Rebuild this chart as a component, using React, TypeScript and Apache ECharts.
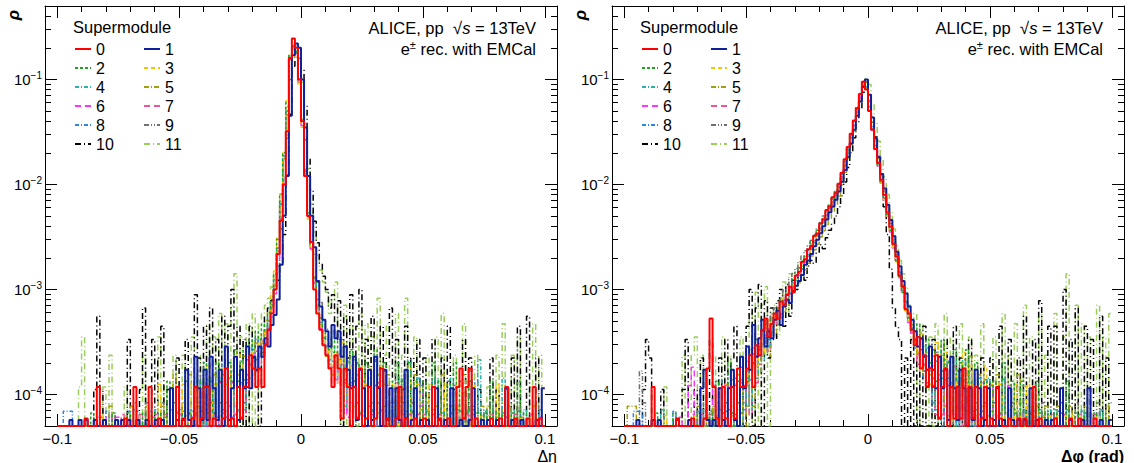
import React, { useEffect, useRef } from "react";
import * as echarts from "echarts";

// ---------------- axes / binning ----------------
const SUPERMODULES = ["0", "1", "2", "3", "4", "5", "6", "7", "8", "9", "10", "11"];
const HIST_MIN = -0.1;
const HIST_MAX = 0.1;
const N_BINS = 160;
const X_MIN = -0.105;
const X_MAX = 0.105;
const Y_MIN = 5e-5;
const Y_MAX = 0.5;
const X_MAJOR_TICKS = [-0.1, -0.05, 0, 0.05, 0.1];
const X_MINOR_TICKS = [-0.09, -0.08, -0.07, -0.06, -0.04, -0.03, -0.02, -0.01, 0.01, 0.02, 0.03, 0.04, 0.06, 0.07, 0.08, 0.09];
const Y_MAJOR_TICKS = [1e-4, 1e-3, 1e-2, 1e-1];
const Y_MINOR_TICKS = [
  6e-5, 7e-5, 8e-5, 9e-5,
  2e-4, 3e-4, 4e-4, 5e-4, 6e-4, 7e-4, 8e-4, 9e-4,
  2e-3, 3e-3, 4e-3, 5e-3, 6e-3, 7e-3, 8e-3, 9e-3,
  2e-2, 3e-2, 4e-2, 5e-2, 6e-2, 7e-2, 8e-2, 9e-2,
  2e-1, 3e-1, 4e-1,
];

// entries per supermodule (normalisation of the histograms)
const ETA_ENTRIES = [17000, 17500, 15000, 16000, 14000, 13000, 16500, 15500, 14500, 12000, 9000, 8500];
const PHI_ENTRIES = [17000, 17500, 15000, 16000, 14000, 13000, 16500, 15500, 14500, 12000, 9000, 8500];

// ---------------- Δη counts per bin (160 bins, -0.1 .. 0.1) ----------------
const ETA_SM0 = [
  0,0,0,0,0,0,0,0,0,1, 0,0,0,2,0,0,0,0,0,0,
  0,0,1,0,0,2,0,0,0,0, 2,0,0,1,0,0,0,0,0,2,
  0,1,0,0,1,2,0,1,2,2, 0,1,0,0,1,3,0,1,0,2,
  1,2,2,4,3,2,3,2,5,7, 10,17,37,77,170,544,2720,4165,3400,1700,
  680,204,85,48,17,10,7,5,4,3, 2,4,3,1,3,2,0,2,1,3,
  0,1,2,0,1,2,3,0,1,0, 0,1,2,0,1,0,0,1,0,0,
  1,0,0,2,0,1,0,0,1,0, 0,2,3,1,2,3,0,1,0,0,
  0,0,1,0,0,1,0,2,0,0, 1,0,0,0,1,0,2,0,1,0,
];
const ETA_SM1 = [
  0,0,0,0,1,0,0,1,0,1, 0,0,1,0,0,1,0,0,0,1,
  0,1,0,1,0,0,1,0,0,1, 0,0,1,0,1,0,0,2,0,1,
  0,1,3,1,0,4,2,1,3,1, 4,2,1,3,0,5,1,2,4,1,
  3,2,5,2,4,3,5,4,6,5, 8,10,14,30,88,210,790,2975,3850,3500,
  1750,610,210,88,44,21,12,9,7,5, 8,6,7,4,5,3,2,4,1,3,
  2,0,3,1,4,2,0,3,1,2, 0,2,1,0,3,0,1,2,0,1,
  0,1,0,0,2,1,0,1,0,2, 0,0,1,0,0,1,2,0,0,1,
  0,1,0,0,1,0,0,2,0,1, 0,0,1,0,0,0,0,1,0,2,
];
const ETA_SM2 = [
  0,0,0,0,0,0,0,0,0,0, 0,1,0,0,0,0,0,0,1,0,
  0,0,0,1,0,0,0,0,1,0, 0,1,0,0,1,0,2,0,0,1,
  1,0,2,1,0,1,2,0,3,1, 2,1,3,2,1,2,3,2,4,2,
  3,4,2,5,4,6,5,7,6,9, 12,21,45,120,300,900,2550,3000,2700,1500,
  600,200,80,40,20,12,8,6,5,4, 6,3,5,4,2,3,4,2,3,1,
  2,3,1,2,4,1,2,3,1,0, 2,3,1,2,0,3,1,2,1,0,
  2,1,0,3,1,2,1,0,2,1, 3,1,2,0,1,2,0,1,1,0,
  1,0,2,0,1,0,1,0,0,1, 0,2,0,1,0,0,1,0,0,0,
];
const ETA_SM3 = [
  0,0,0,0,0,0,0,0,0,0, 0,0,0,0,1,0,0,0,0,0,
  0,0,1,0,0,0,1,0,0,0, 1,0,0,2,0,0,1,0,1,0,
  0,2,1,0,2,1,0,2,1,3, 1,2,2,1,3,2,1,3,2,4,
  2,3,4,3,5,4,6,5,8,10, 14,24,50,130,330,1000,2700,3100,2600,1400,
  560,190,75,38,19,11,7,6,4,5, 3,4,2,5,3,2,3,1,2,3,
  1,2,3,0,2,1,3,2,0,1, 2,1,0,2,1,3,0,1,2,0,
  1,0,2,1,0,1,0,2,1,0, 1,2,0,1,0,0,2,1,0,1,
  0,1,0,0,2,0,1,0,1,0, 0,0,1,0,0,1,0,0,0,0,
];
const ETA_SM4 = [
  0,0,0,0,0,0,0,0,0,0, 0,0,0,0,0,0,0,0,0,0,
  0,0,0,0,0,1,0,0,0,0, 0,0,1,0,0,0,0,1,0,0,
  1,0,0,1,0,2,0,1,0,1, 2,0,1,2,1,0,2,1,3,1,
  2,1,3,2,4,3,4,5,5,7, 10,16,33,90,240,700,2200,2900,2600,1400,
  560,190,75,36,18,10,7,5,4,3, 4,2,3,2,4,1,2,3,1,2,
  1,0,2,1,3,0,1,2,0,1, 1,0,2,1,0,3,1,0,2,1,
  0,1,0,1,2,0,0,1,0,2, 0,1,0,0,1,0,1,0,3,0,
  1,0,0,1,0,0,2,0,0,1, 0,0,0,1,0,0,0,0,1,0,
];
const ETA_SM5 = [
  0,0,0,0,0,0,0,0,0,0, 0,0,0,0,0,0,0,1,0,0,
  0,0,0,0,1,0,0,0,0,1, 0,0,0,0,1,0,0,0,2,0,
  0,1,0,2,0,1,1,0,2,1, 0,2,1,1,2,0,1,2,1,2,
  1,3,2,3,2,4,3,4,5,6, 9,15,30,85,230,650,2000,2600,2450,1350,
  540,180,70,34,17,9,6,5,3,4, 2,3,2,3,1,2,3,1,2,1,
  0,2,1,0,1,2,0,1,2,0, 1,0,1,2,0,1,0,2,0,1,
  0,0,1,0,1,0,2,0,0,1, 0,1,0,2,0,0,1,0,0,1,
  0,1,0,0,0,1,0,0,1,0, 0,1,0,0,0,0,1,0,0,0,
];
const ETA_SM6 = [
  0,0,0,0,0,0,0,0,0,0, 0,0,0,1,1,0,1,1,0,1,
  1,0,1,0,0,0,1,0,0,0, 0,1,0,0,0,1,0,0,1,0,
  0,0,1,0,1,0,0,1,0,2, 1,0,1,2,0,1,2,1,0,2,
  1,2,3,2,4,3,4,4,5,7, 9,15,32,90,250,760,2300,3300,2900,1500,
  600,200,80,40,19,11,7,5,4,3, 3,2,4,2,3,1,2,2,1,3,
  1,2,0,1,2,0,1,0,2,1, 0,1,2,0,1,0,0,1,0,2,
  0,1,0,0,1,0,1,0,0,1, 2,0,0,1,0,0,0,1,0,0,
  1,0,0,0,1,0,0,1,0,0, 0,0,1,0,0,0,0,0,1,0,
];
const ETA_SM7 = [
  0,0,0,0,0,0,0,0,0,0, 0,0,0,0,0,0,0,0,1,0,
  0,1,0,0,0,0,0,1,0,0, 0,0,1,0,0,1,0,0,0,0,
  1,0,0,1,0,1,0,0,2,0, 1,1,0,2,1,0,1,2,1,1,
  2,1,2,3,3,4,3,5,5,7, 10,17,35,95,260,780,2400,3200,2800,1450,
  580,195,78,38,18,10,7,5,4,3, 2,3,2,3,2,1,2,1,3,1,
  2,0,1,1,0,2,1,0,1,0, 1,2,0,1,0,1,0,0,1,0,
  1,0,0,1,0,1,0,0,1,0, 0,1,0,0,1,0,1,0,0,0,
  0,0,1,0,0,0,1,0,0,0, 1,0,0,0,0,1,0,0,0,0,
];
const ETA_SM8 = [
  0,0,1,1,1,0,0,0,0,0, 0,0,0,0,0,0,1,0,0,0,
  0,0,0,1,0,0,1,0,0,0, 1,0,0,0,1,0,0,1,0,1,
  0,1,2,0,1,0,2,1,0,2, 1,2,0,1,3,1,2,0,2,1,
  3,2,2,4,3,5,4,4,6,8, 11,18,36,100,270,800,2350,3000,2650,1400,
  560,190,76,37,18,10,7,5,4,3, 3,2,3,1,2,3,1,2,2,1,
  1,2,0,1,3,0,1,2,0,1, 0,1,0,2,1,0,1,0,2,0,
  0,1,0,2,0,0,1,0,1,0, 0,0,1,0,1,0,0,2,0,0,
  1,0,0,1,0,0,0,1,0,0, 0,1,0,0,0,0,0,1,0,0,
];
const ETA_SM9 = [
  0,0,0,0,0,0,0,0,0,0, 0,0,0,0,0,0,0,0,0,0,
  0,0,0,0,0,1,0,0,0,1, 0,0,0,0,1,0,0,0,1,0,
  0,1,0,1,0,0,2,0,1,0, 1,0,2,1,0,1,0,2,1,1,
  2,1,2,2,3,2,4,3,4,6, 8,12,20,45,110,330,1200,2300,2500,1900,
  900,320,120,55,26,14,9,6,5,4, 3,3,2,4,2,3,1,2,1,2,
  1,0,2,1,0,1,0,2,0,1, 1,0,0,1,2,0,1,0,0,1,
  0,1,0,0,1,0,1,0,0,0, 1,0,1,0,0,2,0,0,1,0,
  0,0,1,0,0,0,1,0,0,0, 0,1,0,0,0,0,0,1,0,0,
];
const ETA_SM10 = [
  0,0,0,0,0,0,0,0,0,0, 0,0,1,5,1,0,0,0,0,0,
  0,0,0,3,0,0,0,1,6,0, 0,3,0,2,4,0,1,0,0,2,
  0,0,3,0,0,8,2,0,4,0, 6,0,3,0,5,0,4,9,0,4,
  0,3,0,4,2,3,0,3,5,6, 7,9,11,16,30,110,420,1200,1750,1650,
  1100,500,160,80,40,25,16,12,9,6, 8,3,7,0,5,2,8,0,4,9,
  0,3,0,5,1,0,4,0,2,6, 0,3,0,1,4,0,2,0,3,0,
  2,0,1,3,0,0,2,0,4,0, 1,0,0,3,0,2,0,0,1,0,
  0,0,2,0,1,0,0,1,0,2, 0,4,0,0,5,0,0,2,0,0,
];
const ETA_SM11 = [
  0,0,0,0,0,0,0,1,3,0, 0,0,0,0,0,1,0,2,0,0,
  0,0,1,0,0,0,0,0,2,0, 0,0,0,3,0,1,0,0,2,0,
  0,2,0,0,3,0,2,0,0,4, 0,3,0,5,0,4,0,6,12,0,
  3,0,4,0,5,0,4,5,6,7, 9,12,20,40,85,250,900,1500,1600,1350,
  800,320,120,55,30,18,13,10,8,5, 7,10,3,0,6,0,4,2,0,5,
  0,4,0,3,0,7,0,2,4,0, 0,5,0,2,7,0,0,3,0,1,
  0,2,0,0,3,0,5,0,1,0, 2,0,0,4,0,1,0,2,0,0,
  0,1,0,0,2,0,4,0,0,2, 0,3,0,0,0,1,4,0,2,0,
];

// ---------------- Δφ counts per bin (160 bins, -0.1 .. 0.1) ----------------
const PHI_SM0 = [
  0,0,0,0,0,0,0,0,0,2, 0,0,0,0,0,0,0,1,0,0,
  0,0,1,0,0,0,1,3,9,2, 1,0,2,1,0,2,1,3,2,2,
  3,4,2,5,4,7,9,6,8,10, 9,13,12,15,18,16,23,25,31,33,
  41,44,55,58,72,79,97,105,128,140, 172,220,295,385,515,690,905,1230,1615,1360,
  850,565,370,272,188,135,92,67,46,35, 23,18,11,10,7,5,6,3,4,2,
  3,2,4,1,2,3,0,2,1,2, 1,3,0,2,1,2,0,1,2,0,
  1,0,2,1,0,0,1,0,0,1, 0,1,0,0,2,0,1,0,0,0,
  0,1,0,0,0,0,1,0,0,1, 0,0,0,0,1,0,0,0,0,0,
];
const PHI_SM1 = [
  0,0,0,0,1,0,0,0,0,1, 0,1,0,0,0,0,0,1,0,0,
  0,1,0,0,0,2,3,1,0,1, 0,2,1,0,2,3,1,0,4,2,
  5,3,8,4,6,9,5,7,6,9, 11,8,12,14,13,17,19,21,24,30,
  33,38,45,52,60,70,81,95,108,125, 150,185,240,320,430,580,790,1080,1480,1750,
  1250,760,480,320,220,160,112,80,56,40, 29,21,16,12,9,7,5,6,4,3,
  5,3,2,4,2,3,1,4,2,1, 3,2,0,2,1,3,2,0,1,2,
  0,1,2,0,1,0,2,1,0,1, 0,1,0,2,0,1,0,0,1,0,
  1,0,0,2,0,0,1,0,0,0, 1,0,2,0,0,0,1,0,0,1,
];
const PHI_SM2 = [
  0,0,0,0,0,0,0,0,0,0, 1,0,0,0,0,0,1,0,0,0,
  0,0,0,0,1,0,0,0,1,0, 2,0,1,0,3,1,0,2,1,3,
  2,4,3,5,4,6,7,5,8,9, 10,12,11,14,16,19,22,24,28,31,
  36,42,48,55,64,72,84,96,110,128, 150,190,250,335,450,600,820,1100,1420,1250,
  780,500,330,230,160,112,78,55,40,28, 20,14,10,8,6,5,7,4,3,5,
  3,4,2,3,5,2,3,1,4,2, 3,2,4,1,2,3,1,2,0,2,
  1,2,0,1,3,1,0,2,1,0, 2,1,0,1,0,2,1,0,1,0,
  0,1,0,1,0,2,0,0,1,0, 0,1,0,0,1,0,0,1,0,0,
];
const PHI_SM3 = [
  0,0,0,0,0,0,0,0,0,0, 0,0,0,1,0,0,0,0,0,0,
  0,0,0,1,0,0,0,1,0,0, 1,0,0,2,0,1,2,0,1,2,
  3,2,4,3,5,4,6,8,7,9, 8,11,13,12,16,18,20,23,27,30,
  35,40,46,53,62,70,80,92,106,122, 145,185,245,330,440,600,820,1110,1460,1300,
  820,520,345,240,165,115,80,57,40,29, 21,15,10,8,7,5,4,6,3,4,
  2,3,5,2,3,4,1,2,3,1, 2,4,1,3,2,1,2,0,3,1,
  2,0,1,2,0,1,1,0,2,0, 1,0,2,0,1,0,0,1,0,1,
  0,0,1,0,1,0,0,1,0,0, 1,0,0,0,0,1,0,0,0,0,
];
const PHI_SM4 = [
  0,0,0,0,0,0,0,0,0,0, 0,0,1,0,0,0,0,0,0,0,
  0,0,0,0,0,1,0,0,0,0, 0,1,0,0,1,0,2,1,0,1,
  2,1,3,2,4,3,5,4,6,7, 8,7,10,11,13,15,17,20,22,26,
  30,34,39,45,52,60,68,79,92,106, 125,160,210,285,380,510,700,950,1290,1200,
  760,480,320,220,150,105,74,52,37,27, 19,14,10,7,6,4,5,3,4,2,
  3,2,1,4,2,3,2,1,3,0, 2,3,1,2,0,1,2,1,0,2,
  1,0,1,0,2,0,1,0,1,0, 0,1,0,1,0,0,1,0,0,1,
  0,1,0,0,0,1,0,0,0,0, 1,0,0,0,0,0,1,0,0,0,
];
const PHI_SM5 = [
  0,1,1,1,0,0,0,0,0,0, 0,0,0,0,0,0,0,0,0,0,
  0,0,0,0,1,0,0,0,0,1, 0,0,1,0,0,1,0,2,1,0,
  1,2,1,3,2,3,4,3,5,5, 6,7,8,9,10,12,14,15,18,20,
  23,27,31,35,41,47,54,62,72,84, 100,128,170,230,310,420,580,800,1100,1230,
  820,510,335,230,158,110,77,54,38,27, 19,13,10,7,6,4,3,5,2,3,
  2,3,1,2,4,1,2,3,0,2, 1,2,0,3,1,0,2,1,1,0,
  1,0,2,0,1,0,0,1,0,2, 0,0,1,0,0,1,0,0,1,0,
  0,0,1,0,0,0,1,0,0,0, 0,1,0,0,0,0,0,0,1,0,
];
const PHI_SM6 = [
  0,0,0,0,0,0,0,0,0,0, 0,0,0,0,0,0,0,0,1,0,
  0,2,3,0,1,0,0,1,0,2, 1,0,1,2,0,1,2,1,3,2,
  2,3,4,3,5,5,6,7,8,9, 11,12,13,15,17,19,22,25,28,32,
  37,42,48,55,63,73,84,97,112,130, 155,195,255,340,455,610,830,1120,1480,1330,
  840,540,355,245,170,118,82,58,41,30, 21,15,11,8,6,5,4,3,4,2,
  3,2,4,1,2,3,2,1,3,2, 1,2,0,2,1,0,2,1,0,1,
  2,0,1,0,1,0,2,0,1,0, 0,1,0,0,1,0,0,1,0,0,
  0,1,0,0,0,1,0,0,1,0, 0,0,0,1,0,0,0,0,0,0,
];
const PHI_SM7 = [
  0,0,0,0,0,0,0,0,0,0, 0,0,0,0,0,0,0,0,0,0,
  0,0,1,0,0,1,0,0,1,0, 0,1,0,2,0,1,1,0,2,1,
  2,1,3,2,3,4,5,4,6,7, 8,9,11,12,14,16,19,21,24,28,
  32,37,42,48,56,64,74,85,99,115, 138,175,230,305,410,550,750,1020,1370,1280,
  800,510,340,235,162,113,79,56,40,29, 20,15,10,8,6,5,3,4,3,2,
  2,3,1,2,1,3,0,2,1,2, 0,1,2,0,1,0,1,2,0,1,
  0,1,0,1,0,2,0,0,1,0, 1,0,0,1,0,0,0,1,0,0,
  1,0,0,0,1,0,0,0,0,1, 0,0,0,0,1,0,0,0,0,0,
];
const PHI_SM8 = [
  0,0,0,1,1,1,0,0,0,0, 0,0,0,0,0,0,1,0,0,0,
  0,0,0,0,1,0,0,0,1,0, 0,2,0,1,0,2,1,0,2,1,
  3,2,4,3,4,6,5,6,7,8, 9,11,12,14,15,18,20,23,26,30,
  34,39,45,52,60,68,79,91,105,122, 145,183,240,320,430,575,780,1060,1400,1270,
  800,515,340,235,163,114,80,57,40,29, 21,15,11,8,6,4,5,3,2,4,
  2,1,3,2,0,2,3,1,2,0, 2,1,3,0,1,2,0,1,2,0,
  1,0,1,0,2,0,1,0,0,1, 0,1,0,0,1,0,0,0,1,0,
  0,0,1,0,0,1,0,0,0,0, 1,0,0,0,0,0,1,0,0,0,
];
const PHI_SM9 = [
  0,0,0,0,0,2,1,0,0,0, 0,0,0,0,0,0,0,0,0,0,
  0,0,0,0,0,0,1,0,0,0, 1,0,0,1,0,2,0,1,2,1,
  2,3,2,4,3,5,6,5,7,8, 9,10,12,13,15,17,19,22,25,28,
  31,35,40,46,52,60,68,78,90,104, 120,150,195,255,335,440,590,790,1050,1100,
  740,470,310,215,150,104,73,51,36,26, 18,13,9,7,5,4,3,4,2,3,
  2,1,3,1,2,0,2,1,0,2, 1,0,1,2,0,1,0,0,1,0,
  0,1,0,0,1,0,0,1,0,0, 1,0,0,0,1,0,0,1,0,0,
  0,0,0,1,0,0,0,0,1,0, 0,0,0,0,0,1,0,0,0,1,
];
const PHI_SM10 = [
  0,0,0,0,0,0,1,3,2,0, 0,0,1,0,0,0,0,0,0,1,
  3,0,0,1,0,2,0,0,3,0, 0,2,0,3,0,2,4,0,2,0,
  4,9,0,6,10,0,7,2,6,3, 7,9,4,10,5,11,9,12,14,11,
  15,17,16,20,24,22,28,33,38,45, 55,70,95,130,180,250,350,480,680,850,
  640,400,255,160,95,55,30,14,6,4, 3,0,2,0,3,0,2,0,4,0,
  0,3,0,2,0,3,0,0,4,0, 2,0,0,3,0,1,0,2,0,0,
  2,0,0,4,0,0,3,0,0,2, 0,5,0,0,3,0,7,0,0,4,
  0,4,0,0,9,0,3,0,6,0, 0,4,0,3,0,0,5,0,2,0,
];
const PHI_SM11 = [
  0,0,0,0,0,0,0,0,0,0, 0,0,0,1,0,0,0,0,0,2,
  0,0,2,3,0,2,0,0,0,2, 0,0,3,0,2,0,0,1,3,0,
  0,5,0,8,0,6,9,0,4,6, 3,7,10,5,12,11,9,15,14,17,
  19,21,24,28,31,35,40,46,52,60, 70,88,115,150,205,280,390,540,740,860,
  760,500,330,220,150,100,68,46,32,22, 16,12,9,6,3,5,0,4,2,0,
  3,0,4,0,2,5,0,3,0,1, 4,0,0,3,0,2,0,4,0,0,
  0,3,0,0,5,0,2,0,4,0, 0,6,0,3,0,0,5,0,2,0,
  0,5,0,0,3,12,0,0,6,0, 4,0,3,0,0,6,0,3,0,5,
];

const ETA_COUNTS = [ETA_SM0, ETA_SM1, ETA_SM2, ETA_SM3, ETA_SM4, ETA_SM5, ETA_SM6, ETA_SM7, ETA_SM8, ETA_SM9, ETA_SM10, ETA_SM11];
const PHI_COUNTS = [PHI_SM0, PHI_SM1, PHI_SM2, PHI_SM3, PHI_SM4, PHI_SM5, PHI_SM6, PHI_SM7, PHI_SM8, PHI_SM9, PHI_SM10, PHI_SM11];

// ---------------- styles ----------------
const SM_COLORS = ["#ff0000", "#10209a", "#22a022", "#f5c400", "#2ab0b0", "#a0a010", "#ff33ff", "#ee5599", "#2f86e0", "#707070", "#000000", "#9acd5a"];
const SM_WIDTHS = [2, 2, 1.5, 1.5, 1.5, 1.5, 1.5, 1.5, 1.5, 1.5, 1.5, 1.5];
const SM_DASHES: any[] = [
  "solid", "solid", [3, 2], [4, 3], [4, 2, 1, 2], [5, 2, 1, 2],
  [6, 4], [6, 4], [4, 2, 1, 2], [5, 2, 1, 2, 1, 2], [6, 3, 1, 3], [6, 3, 1, 3],
];

const FONT = "Liberation Sans, Arial, Helvetica, sans-serif";

function histData(counts: number[], entries: number) {
  const data: number[][] = [];
  let last = Y_MIN;
  for (let k = 0; k < N_BINS; k++) {
    const edge = HIST_MIN + ((HIST_MAX - HIST_MIN) * k) / N_BINS;
    const c = counts[k] ?? 0;
    last = c > 0 ? c / entries : Y_MIN;
    data.push([edge, last]);
  }
  data.push([HIST_MAX, last]);
  return data;
}

function xFmt(v: number) {
  if (Math.abs(v) < 1e-12) return "0";
  return (v < 0 ? "\u2212" : "") + String(Math.abs(v));
}

function makeAxes(grid: number) {
  const xBase = {
    type: "value",
    gridIndex: grid,
    min: X_MIN,
    max: X_MAX,
    splitLine: { show: false },
    axisLine: { show: true, onZero: false, lineStyle: { color: "#000", width: 1 } },
  };
  const xAxes = [
    {
      ...xBase,
      position: "bottom",
      axisTick: { show: true, inside: true, length: 12, customValues: X_MAJOR_TICKS, lineStyle: { color: "#000" } },
      axisLabel: { show: true, customValues: X_MAJOR_TICKS, formatter: xFmt, fontSize: 15, color: "#000", fontFamily: FONT, margin: 5 },
    },
    {
      ...xBase,
      position: "bottom",
      axisLine: { show: false, onZero: false },
      axisTick: { show: true, inside: true, length: 6, customValues: X_MINOR_TICKS, lineStyle: { color: "#000" } },
      axisLabel: { show: false },
    },
    {
      ...xBase,
      position: "top",
      axisTick: { show: true, inside: true, length: 12, customValues: X_MAJOR_TICKS, lineStyle: { color: "#000" } },
      axisLabel: { show: false },
    },
    {
      ...xBase,
      position: "top",
      axisLine: { show: false, onZero: false },
      axisTick: { show: true, inside: true, length: 6, customValues: X_MINOR_TICKS, lineStyle: { color: "#000" } },
      axisLabel: { show: false },
    },
  ];
  const yBase = {
    type: "log",
    logBase: 10,
    gridIndex: grid,
    min: Y_MIN,
    max: Y_MAX,
    splitLine: { show: false },
    axisLine: { show: true, onZero: false, lineStyle: { color: "#000", width: 1 } },
  };
  const yAxes = [
    {
      ...yBase,
      position: "left",
      axisTick: { show: true, inside: true, length: 12, customValues: Y_MAJOR_TICKS, lineStyle: { color: "#000" } },
      axisLabel: {
        show: true,
        customValues: Y_MAJOR_TICKS,
        margin: 3,
        formatter: (v: number) => `{b|10}{s|\u2212${Math.abs(Math.round(Math.log10(v)))}}`,
        rich: {
          b: { fontSize: 15, fontFamily: FONT, color: "#000" },
          s: { fontSize: 10, fontFamily: FONT, color: "#000", padding: [0, 0, 8, 0] },
        },
      },
    },
    {
      ...yBase,
      position: "left",
      axisLine: { show: false, onZero: false },
      axisTick: { show: true, inside: true, length: 6, customValues: Y_MINOR_TICKS, lineStyle: { color: "#000" } },
      axisLabel: { show: false },
    },
    {
      ...yBase,
      position: "right",
      axisTick: { show: true, inside: true, length: 12, customValues: Y_MAJOR_TICKS, lineStyle: { color: "#000" } },
      axisLabel: { show: false },
    },
    {
      ...yBase,
      position: "right",
      axisLine: { show: false, onZero: false },
      axisTick: { show: true, inside: true, length: 6, customValues: Y_MINOR_TICKS, lineStyle: { color: "#000" } },
      axisLabel: { show: false },
    },
  ];
  return { xAxes, yAxes };
}

function panelSeries(countsList: number[][], entries: number[], axisOffset: number) {
  const out: any[] = [];
  for (let i = SUPERMODULES.length - 1; i >= 0; i--) {
    out.push({
      type: "line",
      name: SUPERMODULES[i],
      xAxisIndex: axisOffset,
      yAxisIndex: axisOffset,
      data: histData(countsList[i], entries[i]),
      step: "end",
      symbol: "none",
      showSymbol: false,
      clip: true,
      silent: true,
      lineStyle: { color: SM_COLORS[i], width: SM_WIDTHS[i], type: SM_DASHES[i] },
      itemStyle: { color: SM_COLORS[i] },
      z: 2,
    });
  }
  return out;
}

function legendFor(left: number) {
  return {
    data: SUPERMODULES,
    left,
    top: 41,
    width: 140,
    orient: "horizontal",
    padding: 0,
    itemWidth: 16,
    itemHeight: 14,
    itemGap: 3,
    selectedMode: false,
    itemStyle: { opacity: 0, color: "rgba(0,0,0,0)", borderWidth: 0 },
    textStyle: { fontSize: 16, color: "#000", fontFamily: FONT, width: 44, lineHeight: 15 },
  };
}

function headerTexts(dx: number) {
  return [
    {
      type: "text",
      x: 73 + dx,
      y: 27,
      style: { text: "Supermodule", fill: "#000", font: `16.5px ${FONT}`, align: "left", verticalAlign: "middle" },
    },
    {
      type: "text",
      x: 536 + dx,
      y: 28,
      style: {
        text: "ALICE, pp  {r|\u221A}{i|s} = 13TeV",
        fill: "#000",
        font: `16.5px ${FONT}`,
        align: "right",
        verticalAlign: "middle",
        rich: {
          r: { fontSize: 17, fontFamily: FONT, fill: "#000" },
          i: { fontSize: 16.5, fontFamily: FONT, fontStyle: "italic", fill: "#000" },
        },
      },
    },
    {
      type: "text",
      x: 536 + dx,
      y: 49,
      style: {
        text: "e{p|\u00B1} rec. with EMCal",
        fill: "#000",
        font: `16.5px ${FONT}`,
        align: "right",
        verticalAlign: "middle",
        rich: {
          p: { fontSize: 11, fontFamily: FONT, fill: "#000", padding: [0, 0, 8, 0] },
        },
      },
    },
    {
      type: "text",
      x: 13 + dx,
      y: 15,
      rotation: Math.PI / 2,
      style: { text: "\u03C1", fill: "#000", font: `italic bold 17px ${FONT}`, align: "center", verticalAlign: "middle" },
    },
  ];
}

export default function App() {
  const ref = useRef<HTMLDivElement | null>(null);
  useEffect(() => {
    if (!ref.current) return;
    const chart = echarts.init(ref.current, undefined, { renderer: "svg" });
    const left = makeAxes(0);
    const right = makeAxes(1);
    const option: any = {
      animation: false,
      textStyle: { fontFamily: FONT },
      grid: [
        { left: 45, top: 6, width: 512, height: 420, containLabel: false },
        { left: 612, top: 6, width: 512, height: 420, containLabel: false },
      ],
      xAxis: [...left.xAxes, ...right.xAxes],
      yAxis: [...left.yAxes, ...right.yAxes],
      legend: [legendFor(74), legendFor(74 + 567)],
      series: [...panelSeries(ETA_COUNTS, ETA_ENTRIES, 0), ...panelSeries(PHI_COUNTS, PHI_ENTRIES, 4)],
      graphic: [
        ...headerTexts(0),
        ...headerTexts(567),
        {
          type: "text",
          x: 557,
          y: 456,
          style: { text: "\u0394\u03B7", fill: "#000", font: `16px ${FONT}`, align: "right", verticalAlign: "middle" },
        },
        {
          type: "text",
          x: 1124,
          y: 456,
          style: { text: "\u0394\u03C6 (rad)", fill: "#000", font: `bold 16px ${FONT}`, align: "right", verticalAlign: "middle" },
        },
      ],
    };
    chart.setOption(option);
    return () => chart.dispose();
  }, []);
  return <div ref={ref} style={{ position: "absolute", left: 0, top: 0, width: 1134, height: 463, background: "#fff" }} />;
}
